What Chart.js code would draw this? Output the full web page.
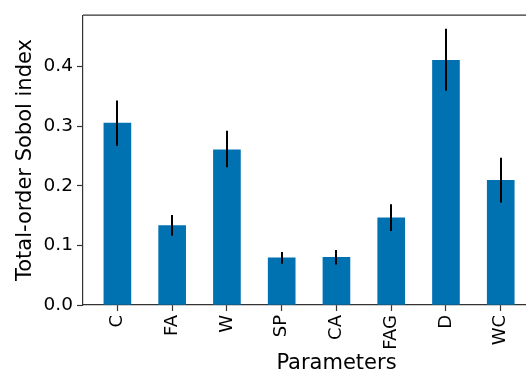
<!DOCTYPE html>
<html>
<head>
<meta charset="utf-8">
<script src="https://cdn.jsdelivr.net/npm/chart.js@4"></script>
<style>
  html, body { margin: 0; padding: 0; background: #fff; overflow: hidden; }
  #wrap { width: 600px; height: 376px; }
</style>
</head>
<body>
<div id="wrap"><canvas id="grafico" width="600" height="376"></canvas></div>
<script>
// dados
const parametros = ["C", "FA", "W", "SP", "CA", "FAG", "D", "WC"];
const sobolTotal = [0.305, 0.133, 0.260, 0.079, 0.080, 0.146, 0.410, 0.209];
const erroInferior = [0.267, 0.116, 0.231, 0.069, 0.068, 0.124, 0.359, 0.172];
const erroSuperior = [0.343, 0.151, 0.292, 0.089, 0.092, 0.169, 0.463, 0.247];
const ticksY = [0.0, 0.1, 0.2, 0.3, 0.4];

const corEixo = "#333";
const fonte = "'DejaVu Sans', sans-serif";

// barras de erro + moldura de cima/direita
const barrasErro = {
  id: "barrasErro",
  afterDatasetsDraw(chart) {
    const { ctx, scales: { x, y }, chartArea } = chart;
    ctx.save();
    ctx.strokeStyle = "#000";
    ctx.lineWidth = 2;
    parametros.forEach((p, i) => {
      const px = Math.round(x.getPixelForValue(i));
      ctx.beginPath();
      ctx.moveTo(px, y.getPixelForValue(erroInferior[i]));
      ctx.lineTo(px, y.getPixelForValue(erroSuperior[i]));
      ctx.stroke();
    });
    ctx.strokeStyle = corEixo;
    ctx.lineWidth = 1.2;
    ctx.beginPath();
    ctx.moveTo(chartArea.left, chartArea.top);
    ctx.lineTo(chartArea.right, chartArea.top);
    ctx.lineTo(chartArea.right, chartArea.bottom);
    ctx.stroke();
    ctx.restore();
  }
};

const ctx = document.getElementById("grafico").getContext("2d");
new Chart(ctx, {
  type: "bar",
  data: {
    datasets: [{
      data: sobolTotal.map((v, i) => ({ x: i, y: v })),
      backgroundColor: "#0072B2",
      borderWidth: 0,
      barThickness: 27,
    }],
  },
  options: {
    responsive: false,
    animation: false,
    layout: { padding: { top: 13, right: 10, left: 0, bottom: 0 } },
    plugins: { legend: { display: false }, tooltip: { enabled: false } },
    scales: {
      x: {
        type: "linear",
        offset: false,
        min: -0.628,
        max: 8.63,
        afterBuildTicks: (s) => { s.ticks = parametros.map((p, i) => ({ value: i })); },
        afterFit: (s) => { s.height = 71; },
        grid: { offset: false, drawOnChartArea: false, drawTicks: true, tickLength: 6, tickColor: corEixo, tickWidth: 1.2 },
        border: { display: true, color: corEixo, width: 1.2 },
        ticks: {
          autoSkip: false,
          minRotation: 90,
          maxRotation: 90,
          padding: 4,
          color: "#000",
          font: { family: fonte, size: 18 },
          callback: (v) => parametros[v] ?? "",
        },
        title: {
          display: true,
          text: "Parameters",
          color: "#000",
          font: { family: fonte, size: 21 },
          padding: { top: 0, bottom: 0 },
        },
      },
      y: {
        min: 0,
        max: 0.486,
        afterBuildTicks: (s) => { s.ticks = ticksY.map((v) => ({ value: v })); },
        afterFit: (s) => { s.width = 83; },
        grid: { drawOnChartArea: false, drawTicks: true, tickLength: 6, tickColor: corEixo, tickWidth: 1.2 },
        border: { display: true, color: corEixo, width: 1.2 },
        ticks: {
          padding: 4,
          color: "#000",
          font: { family: fonte, size: 18.5 },
          callback: (v) => v.toFixed(1),
        },
        title: {
          display: true,
          text: "Total-order Sobol index",
          color: "#000",
          font: { family: fonte, size: 21 },
          padding: { top: 13, bottom: 0 },
        },
      },
    },
  },
  plugins: [barrasErro],
});
</script>
</body>
</html>
